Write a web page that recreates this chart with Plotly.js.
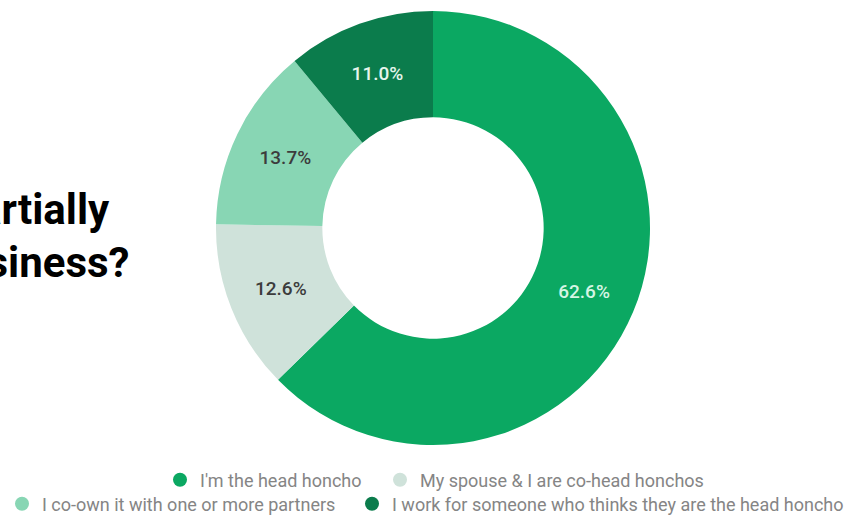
<!DOCTYPE html>
<html>
<head>
<meta charset="utf-8">
<script src="https://cdn.plot.ly/plotly-3.0.1.min.js"></script>
<style>
  html, body { margin: 0; padding: 0; background: #ffffff; }
  #chart { width: 846px; height: 515px; }
</style>
</head>
<body>
<div id="chart"></div>
<script>
// ---- data ----
const categories = [
  "I'm the head honcho",
  "My spouse & I are co-head honchos",
  "I co-own it with one or more partners",
  "I work for someone who thinks they are the head honcho"
];
const shares = [62.6, 12.6, 13.7, 11.0];
const sliceColors = ["#0ba862", "#cfe2da", "#88d6b4", "#0b7c4c"];
const labelColors = ["#d6f5e4", "#3c3c3c", "#3c3c3c", "#e6f5ec"];
const titleLines = ["Do you own the business or partially", "own the business?"];

// ---- layout geometry ----
const W = 846, H = 515;
const M = { l: 216, r: 196, t: 11, b: 70 };
const gw = W - M.l - M.r, gh = H - M.t - M.b;
const px2x = px => (px - M.l) / gw;
const py2y = py => (H - M.b - py) / gh;

const FONT = "Roboto, 'Noto Sans', Arial, sans-serif";

const pie = {
  type: "pie",
  labels: categories,
  values: shares,
  sort: false,
  direction: "clockwise",
  rotation: 0,
  hole: 0.51,
  marker: { colors: sliceColors, line: { width: 0 } },
  textinfo: "none",
  texttemplate: "%{value:.1f}%",
  textposition: "inside",
  insidetextorientation: "horizontal",
  textfont: { family: FONT, size: 19, color: labelColors, weight: 500 },
  showlegend: false,
  hoverinfo: "label+value"
};

// legend entries (circle symbols) – one per category, each in its own legend box
const legendIds = ["legend", "legend2", "legend3", "legend4"];
const legendTraces = categories.map((c, i) => ({
  type: "scatter",
  mode: "markers",
  x: [null], y: [null],
  name: c,
  marker: { symbol: "circle", size: 14, color: sliceColors[i] },
  showlegend: true,
  legend: legendIds[i],
  hoverinfo: "skip"
}));

// symbol centre positions (px) of the legend entries
const legendSymbolX = [180, 400, 22, 372];
const legendSymbolY = [480, 480, 504, 504];

const legendBase = {
  orientation: "h",
  xanchor: "left",
  yanchor: "middle",
  bgcolor: "rgba(0,0,0,0)",
  borderwidth: 0,
  font: { family: FONT, size: 18, color: "#858585" },
  itemclick: false,
  itemdoubleclick: false
};

const titleFont = { family: FONT, size: 42, color: "#000000", weight: 700 };

const layout = {
  width: W,
  height: H,
  margin: Object.assign({ autoexpand: false, pad: 0 }, M),
  paper_bgcolor: "#ffffff",
  plot_bgcolor: "#ffffff",
  xaxis: { visible: false, range: [0, 1] },
  yaxis: { visible: false, range: [0, 1] },
  showlegend: true,
  annotations: [
    {
      xref: "paper", yref: "paper",
      x: px2x(112), y: py2y(210),
      xanchor: "right", yanchor: "middle",
      text: titleLines[0],
      showarrow: false,
      font: titleFont
    },
    {
      xref: "paper", yref: "paper",
      x: px2x(132), y: py2y(262),
      xanchor: "right", yanchor: "middle",
      text: titleLines[1],
      showarrow: false,
      font: titleFont
    }
  ]
};

legendIds.forEach((id, i) => {
  layout[id] = Object.assign({}, legendBase, {
    x: px2x(legendSymbolX[i] - 20),
    y: py2y(legendSymbolY[i])
  });
});

Plotly.newPlot("chart", [pie].concat(legendTraces), layout, { displayModeBar: false, staticPlot: true });
</script>
</body>
</html>
